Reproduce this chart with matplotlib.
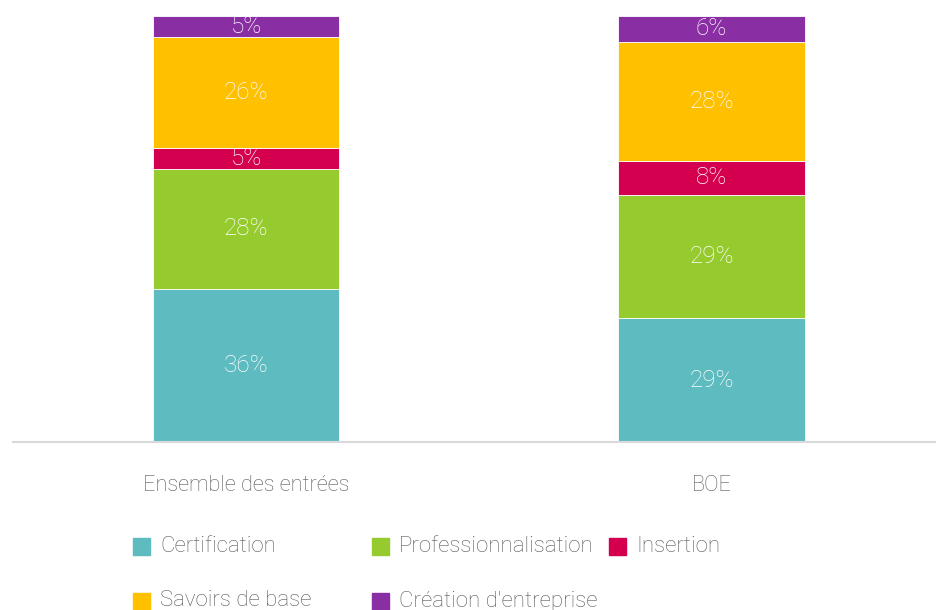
import matplotlib
matplotlib.use("Agg")
import matplotlib.pyplot as plt
from matplotlib.patches import Rectangle

categories = ["Ensemble des entrées", "BOE"]
series = ["Certification", "Professionnalisation", "Insertion", "Savoirs de base", "Création d'entreprise"]
colors = ["#5EBBC0", "#95CB2F", "#D4004F", "#FFC000", "#8A2EA3"]
values = {
    "Certification": [36, 29],
    "Professionnalisation": [28, 29],
    "Insertion": [5, 8],
    "Savoirs de base": [26, 28],
    "Création d'entreprise": [5, 6],
}

plt.rcParams["font.family"] = ["Roboto", "DejaVu Sans"]
text_gray = "#595959"

fig = plt.figure(figsize=(9.36, 6.1), dpi=100)
ax = fig.add_axes([0.01416, 0.2754, 0.9947, 0.6984])

x = range(len(categories))
bottoms = [0, 0]
for name, color in zip(series, colors):
    vals = values[name]
    ax.bar(x, vals, width=0.4, bottom=bottoms, color=color, edgecolor="white", linewidth=0.6)
    for i, v in enumerate(vals):
        ax.text(i, bottoms[i] + v / 2, f"{v}%", ha="center", va="center",
                color="white", fontsize=17.5, fontweight="light")
    bottoms = [b + v for b, v in zip(bottoms, vals)]

ax.set_xlim(-0.5, 1.5)
ax.set_ylim(0, 100)
ax.set_yticks([])
ax.set_xticks(list(x))
ax.set_xticklabels(categories, fontsize=15.7, color=text_gray, fontweight="light")
ax.tick_params(axis="x", length=0, pad=24)
for s in ["top", "right", "left"]:
    ax.spines[s].set_visible(False)
ax.spines["bottom"].set_color("#D9D9D9")
ax.spines["bottom"].set_linewidth(1.5)

# legend laid out in fixed columns, two rows
leg_x = [133, 372, 609]
leg_y = [546, 601]
W, H = 936, 610
for k, (name, color) in enumerate(zip(series, colors)):
    row, col = divmod(k, 3)
    px, py = leg_x[col], leg_y[row]
    fig.add_artist(Rectangle((px / W, (H - py - 9) / H), 17 / W, 17 / H,
                             transform=fig.transFigure, color=color))
    fig.text((px + 27) / W, (H - py) / H, name, ha="left", va="center",
             fontsize=16, color=text_gray, fontweight="light")

fig.savefig("out.png", dpi=100)
